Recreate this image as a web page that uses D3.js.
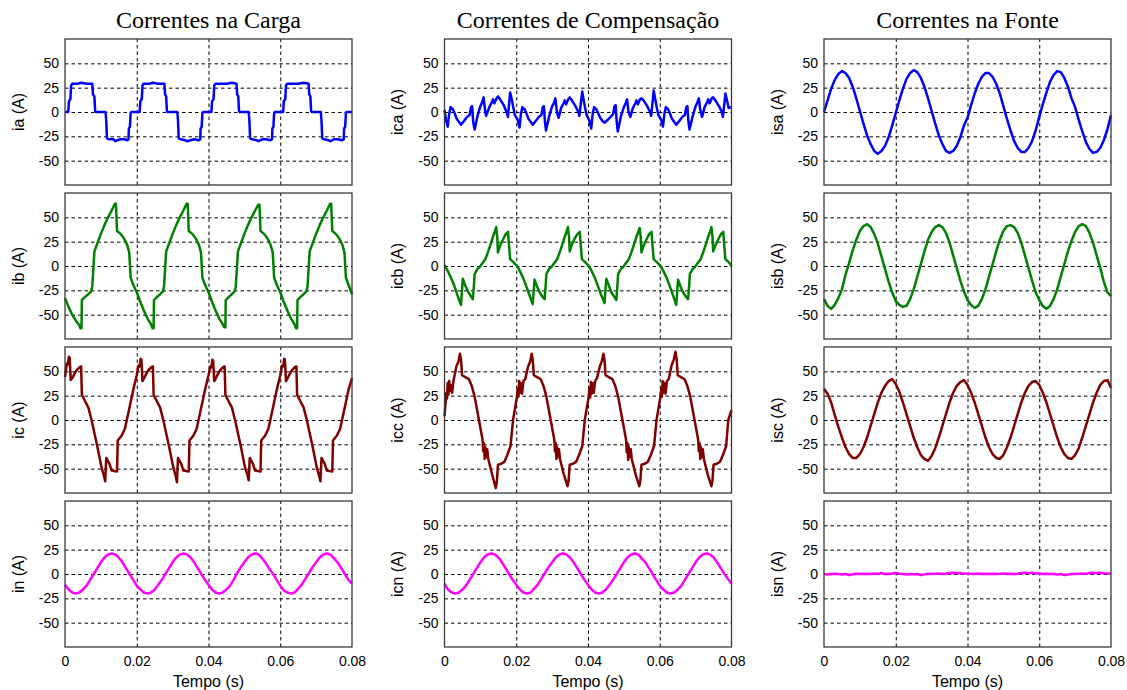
<!DOCTYPE html>
<html>
<head>
<meta charset="utf-8">
<script src="https://cdn.jsdelivr.net/npm/d3@7"></script>
<style>
body { margin: 0; background: #fff; }
</style>
</head>
<body>
<script>
// titles and labels
var columnTitles = ["Correntes na Carga", "Correntes de Compensação", "Correntes na Fonte"];
var rowLabels = [
  ["ia (A)", "ib (A)", "ic (A)", "in (A)"],
  ["ica (A)", "icb (A)", "icc (A)", "icn (A)"],
  ["isa (A)", "isb (A)", "isc (A)", "isn (A)"]
];
var phaseColors = ["#0000ff", "#008000", "#800000", "#ff00ff"];
var yTicks = [-50, -25, 0, 25, 50];
var xTicksMs = [0, 20, 40, 60, 80];
var xTickLabels = ["0", "0.02", "0.04", "0.06", "0.08"];
var xTitle = "Tempo (s)";

// time in ms for the evenly sampled traces
var sampleMs = [0,1,2,3,4,5,6,7,8,9,10,11,12,13,14,15,16,17,18,19,
  20,21,22,23,24,25,26,27,28,29,30,31,32,33,34,35,36,37,38,39,
  40,41,42,43,44,45,46,47,48,49,50,51,52,53,54,55,56,57,58,59,
  60,61,62,63,64,65,66,67,68,69,70,71,72,73,74,75,76,77,78,79,80];

// load currents [ms, A]
var loadA = [[0,0],[0.9,0],[1.1,11],[1.5,13],[1.7,27],[2.0,29],[3.5,29],[4.5,30],[6,29],[7.6,29],[7.8,18],[8.2,16],[8.4,1],[8.6,0],[11.3,0],[11.5,-9],[11.7,-27],[12.2,-28],[13.5,-28],[14,-30],[14.6,-29],[15.5,-28],[16.5,-28],[17.4,-29],[17.7,-28],[17.8,-17],[18.1,-15],[18.3,-1],[18.5,0],
  [20.8,0],[21.0,11],[21.4,13],[21.6,27],[21.9,29],[23.5,29],[24.5,30],[26,29],[27.7,29],[27.9,18],[28.2,16],[28.4,1],[28.6,0],[31.3,0],[31.5,-9],[31.7,-27],[32.2,-28],[33.5,-29],[34,-30],[35,-29],[36,-28],[37.3,-29],[37.7,-28],[37.8,-17],[38.1,-15],[38.3,-1],[38.5,0],
  [40.8,0],[41.0,11],[41.4,13],[41.6,27],[41.9,29],[43.5,29],[45,29],[46.5,30],[47.8,29],[48.0,18],[48.3,16],[48.5,1],[48.7,0],[51.2,0],[51.4,-9],[51.6,-27],[52.1,-28],[53.5,-29],[54,-30],[55,-28],[56,-28],[57.3,-29],[57.7,-28],[57.8,-17],[58.1,-15],[58.3,-1],[58.5,0],
  [60.8,0],[61.0,11],[61.4,13],[61.6,27],[61.9,29],[63.5,29],[65,29],[66.5,30],[67.9,29],[68.1,18],[68.4,16],[68.6,1],[68.8,0],[71.3,0],[71.5,-9],[71.7,-27],[72.2,-28],[73.5,-29],[74,-30],[75,-28],[76,-28],[77.3,-29],[77.7,-28],[77.8,-17],[78.1,-15],[78.3,-1],[78.5,0],[80,0]];

var loadB = [[0,-33],[1,-42],[2,-50],[3,-56],[4,-61],[4.3,-64],[4.6,-64],[4.7,-35],[5.5,-32],[6.5,-29],[7.3,-26],[7.6,-21],[8.2,15],[9,23],[10,33],[11,42],[12,50],[13,57],[13.9,64],[14.2,64],[14.5,36],[15.5,33],[16.5,28],[17.3,22],[17.9,14],[18.3,-12],[19,-19],
  [20,-27],[21,-37],[22,-46],[23,-54],[24,-60],[24.4,-64],[24.7,-64],[24.8,-35],[25.6,-32],[26.5,-29],[27.3,-26],[27.6,-21],[28.2,15],[29,23],[30,33],[31,42],[32,50],[33,57],[33.9,64],[34.2,64],[34.5,36],[35.5,33],[36.5,28],[37.3,22],[37.9,14],[38.3,-12],[39,-19],
  [40,-27],[41,-37],[42,-46],[43,-54],[44,-60],[44.4,-63],[44.7,-63],[44.8,-35],[45.6,-32],[46.5,-29],[47.3,-26],[47.6,-21],[48.2,15],[49,23],[50,33],[51,42],[52,50],[53,57],[53.9,63],[54.2,63],[54.5,36],[55.5,33],[56.5,28],[57.3,22],[57.9,14],[58.3,-12],[59,-19],
  [60,-27],[61,-37],[62,-46],[63,-54],[64,-60],[64.4,-64],[64.7,-64],[64.8,-35],[65.6,-32],[66.5,-29],[67.3,-26],[67.6,-21],[68.2,15],[69,23],[70,33],[71,42],[72,50],[73,57],[73.9,64],[74.2,64],[74.5,36],[75.5,33],[76.5,28],[77.3,22],[77.9,14],[78.3,-12],[79,-19],[80,-29]];

var loadC = [[0,44],[0.5,58],[0.8,57],[1.1,65],[1.3,64],[1.6,41],[2.2,44],[3,50],[4,54],[4.5,55],[4.7,26],[5.5,20],[6.5,13],[7.4,0],[9,-27],[10.2,-49],[10.9,-58],[11.2,-63],[11.5,-39],[12.4,-45],[13,-52],[14.5,-53],[14.7,-21],[15.8,-16],[16.7,-9],[18.1,15],[19.1,32],
  [20,46],[20.5,56],[20.8,55],[21.1,63],[21.3,62],[21.6,40],[22.2,44],[23,50],[24,54],[24.5,55],[24.7,26],[25.5,20],[26.5,13],[27.4,0],[29,-27],[30.2,-49],[30.9,-58],[31.2,-64],[31.5,-39],[32.4,-45],[33,-52],[34.5,-53],[34.7,-21],[35.8,-16],[36.7,-9],[38.1,15],[39.1,32],
  [40,46],[40.5,55],[40.8,54],[41.1,62],[41.3,61],[41.6,40],[42.2,44],[43,50],[44,54],[44.5,55],[44.7,26],[45.5,20],[46.5,13],[47.4,0],[49,-27],[50.2,-49],[50.9,-57],[51.2,-62],[51.5,-39],[52.4,-45],[53,-52],[54.5,-53],[54.7,-21],[55.8,-16],[56.7,-9],[58.1,15],[59.1,32],
  [60,46],[60.5,56],[60.8,55],[61.1,63],[61.3,62],[61.6,40],[62.2,44],[63,50],[64,54],[64.5,55],[64.7,26],[65.5,20],[66.5,13],[67.4,0],[69,-27],[70.2,-49],[70.9,-58],[71.2,-63],[71.5,-39],[72.4,-45],[73,-52],[74.5,-53],[74.7,-21],[75.8,-16],[76.7,-9],[78.1,15],[79.1,32],[80,43]];

var loadN = [-11,-16,-19,-20,-19,-16,-12,-6,0,6,12,17,20,21,20,17,12,6,0,-6,
  -12,-16,-19,-20,-19,-16,-11,-6,0,6,12,17,20,21,20,17,12,6,0,-6,
  -11,-16,-19,-20,-19,-16,-12,-6,1,7,12,17,20,21,20,16,11,5,0,-6,
  -12,-17,-19,-20,-19,-15,-11,-5,1,7,12,17,20,21,20,16,12,6,0,-6,
  -10];

// compensation currents [ms, A]
var compA = [[0,2],[0.4,-8],[0.9,-15],[1.3,-2],[1.7,5],[2.3,3],[2.8,-1],[3.4,-7],[4.0,-10],[4.6,-13],[5.5,-9],[6.3,-5],[7.0,-3],[7.4,5],[7.7,6],[8.0,-10],[8.4,-18],[9.2,-4],[10.0,6],[10.5,10],[10.9,15],[11.3,2],[11.6,-4],[12.5,5],[13.2,10],[13.5,13],[13.9,9],[14.5,14],[14.9,16],[15.5,13],[16.5,7],[17.3,0],[17.7,-5],[18.0,8],[18.3,20],[18.8,12],[19.2,4],[19.6,-3],
  [20.4,-8],[20.9,-16],[21.3,-2],[21.7,5],[22.3,3],[22.8,-1],[23.4,-7],[24.0,-10],[24.6,-13],[25.5,-9],[26.3,-5],[27.0,-3],[27.4,5],[27.7,6],[28.0,-10],[28.3,-19],[29.2,-4],[30.0,6],[30.5,9],[30.9,14],[31.3,1],[31.8,-6],[32.5,4],[33.2,9],[33.5,12],[33.9,8],[34.5,13],[34.9,15],[35.5,12],[36.5,6],[37.3,0],[37.6,-4],[38.0,9],[38.4,21],[38.8,12],[39.2,4],[39.6,-3],
  [40.4,-9],[40.9,-17],[41.3,-2],[41.7,5],[42.3,3],[42.8,-1],[43.4,-6],[44.0,-9],[44.6,-11],[45.5,-8],[46.3,-5],[47.0,-2],[47.4,6],[47.7,7],[48.0,-10],[48.3,-20],[49.2,-4],[50.0,5],[50.5,9],[50.9,13],[51.3,0],[51.8,-5],[52.5,4],[53.2,9],[53.5,12],[53.9,8],[54.5,13],[54.9,14],[55.5,12],[56.5,6],[57.3,0],[57.6,-4],[58.0,10],[58.3,22],[58.8,12],[59.2,4],[59.6,-3],
  [60.4,-8],[60.9,-15],[61.3,-2],[61.7,5],[62.3,3],[62.8,-1],[63.4,-7],[64.0,-10],[64.6,-13],[65.5,-9],[66.3,-5],[67.0,-3],[67.4,5],[67.7,6],[68.0,-10],[68.3,-18],[69.2,-4],[70.0,6],[70.5,10],[70.9,14],[71.3,2],[71.8,-5],[72.5,5],[73.2,10],[73.5,13],[73.9,9],[74.5,14],[74.9,15],[75.5,12],[76.5,6],[77.3,0],[77.6,-5],[78.0,8],[78.3,19],[78.8,11],[79.2,4],[80,5]];

var compB = [[0,1],[0.9,-5],[1.8,-12],[2.7,-20],[3.6,-30],[4.4,-38],[4.6,-40],[5.1,-13],[5.8,-20],[6.5,-26],[7.2,-30],[7.9,-34],[8.2,-20],[8.4,-8],[9.2,-3],[9.8,-1],[10.6,3],[11.4,7],[12.2,15],[13,24],[13.5,30],[14.1,36],[14.4,40],[14.7,30],[14.9,14],[15.6,22],[16.4,28],[17.1,33],[17.7,35],[18.0,20],[18.3,7],[19.2,4],
  [20.2,0],[21,-5],[21.9,-12],[22.8,-21],[23.7,-30],[24.4,-37],[24.6,-39],[25.1,-14],[25.8,-21],[26.5,-27],[27.2,-31],[27.9,-34],[28.2,-20],[28.4,-8],[29.2,-3],[29.8,-1],[30.6,3],[31.4,7],[32.2,15],[33,24],[33.5,30],[34.1,36],[34.4,40],[34.7,30],[34.9,15],[35.6,23],[36.4,29],[37.1,33],[37.7,35],[38,20],[38.3,7],[39.2,4],
  [40.2,0],[41,-5],[41.9,-12],[42.8,-21],[43.7,-30],[44.4,-36],[44.6,-38],[45.1,-13],[45.8,-20],[46.5,-27],[47.2,-31],[47.9,-35],[48.2,-20],[48.4,-8],[49.2,-3],[49.8,-1],[50.6,3],[51.4,7],[52.2,15],[53,24],[53.5,30],[54.1,36],[54.4,39],[54.7,30],[54.9,14],[55.6,22],[56.4,28],[57.1,33],[57.7,35],[58,20],[58.3,7],[59.2,4],
  [60.2,0],[61,-5],[61.9,-12],[62.8,-21],[63.7,-30],[64.4,-38],[64.6,-40],[65.1,-14],[65.8,-21],[66.5,-27],[67.2,-31],[67.9,-34],[68.2,-20],[68.4,-8],[69.2,-3],[69.8,-1],[70.6,3],[71.4,7],[72.2,15],[73,24],[73.5,30],[74.1,36],[74.4,40],[74.7,30],[74.9,15],[75.6,22],[76.4,28],[77.1,33],[77.7,35],[78,20],[78.3,7],[79.2,4],[80,0]];

var compC = [[0,4],[0.3,18],[0.5,28],[0.7,22],[0.9,38],[1.1,26],[1.3,40],[1.5,30],[1.8,36],[2.1,28],[2.5,40],[3.3,55],[3.9,60],[4.3,68],[4.6,62],[4.9,46],[5.8,44],[6.8,42],[7.6,35],[8.4,24],[9.5,2],[10.6,-20],[10.8,-32],[11.0,-24],[11.2,-40],[11.4,-28],[11.6,-38],[11.9,-30],[12.2,-40],[13.2,-55],[14.3,-70],[14.6,-63],[14.9,-46],[15.8,-45],[16.7,-43],[17.5,-36],[18.4,-27],[19.1,0],
  [20.2,24],[20.4,32],[20.6,24],[20.8,40],[21.0,28],[21.3,38],[21.6,27],[22.0,40],[22.5,42],[23.3,55],[23.9,60],[24.3,68],[24.6,62],[24.9,46],[25.8,44],[26.8,42],[27.6,35],[28.4,24],[29.5,2],[30.6,-20],[30.8,-32],[31.0,-24],[31.2,-40],[31.4,-28],[31.6,-38],[31.9,-30],[32.2,-40],[33.2,-55],[34.3,-68],[34.6,-62],[34.9,-46],[35.8,-45],[36.7,-43],[37.5,-36],[38.4,-27],[39.1,0],
  [40.2,24],[40.4,33],[40.6,23],[40.8,39],[41.0,27],[41.3,38],[41.6,28],[42.0,40],[42.5,43],[43.3,55],[43.9,61],[44.3,68],[44.6,62],[44.9,46],[45.8,44],[46.8,42],[47.6,35],[48.4,24],[49.5,2],[50.6,-20],[50.8,-33],[51.0,-24],[51.2,-41],[51.4,-28],[51.6,-38],[51.9,-30],[52.2,-40],[53.2,-55],[54.3,-68],[54.6,-62],[54.9,-46],[55.8,-45],[56.7,-43],[57.5,-36],[58.4,-27],[59.1,0],
  [60.2,24],[60.4,32],[60.6,24],[60.8,40],[61.0,28],[61.3,38],[61.6,27],[62.0,40],[62.5,42],[63.3,56],[63.9,62],[64.4,70],[64.7,63],[65.0,46],[65.9,44],[66.9,42],[67.7,35],[68.5,24],[69.6,2],[70.7,-20],[70.9,-32],[71.1,-24],[71.3,-40],[71.5,-28],[71.7,-38],[72.0,-30],[72.3,-40],[73.3,-55],[74.4,-68],[74.7,-62],[75.0,-46],[75.9,-45],[76.8,-43],[77.6,-36],[78.5,-27],[79.1,0],[80,10]];

var compN = [-10,-16,-19,-20,-19,-16,-12,-6,0,6,12,17,20,21,20,17,12,6,0,-6,
  -11,-16,-19,-20,-19,-15,-11,-5,1,7,12,17,20,21,20,17,12,6,0,-6,
  -11,-16,-19,-20,-19,-16,-11,-6,0,6,12,17,20,21,20,16,12,6,0,-6,
  -12,-16,-19,-20,-19,-16,-12,-6,0,6,12,17,20,21,20,17,12,6,0,-5,
  -10];

// source currents, one value per ms
var srcA = [0,12,24,33,39,42,40,35,26,14,1,-12,-24,-33,-40,-43,-40,-35,-26,-14,
  -1,12,24,34,40,43,41,35,26,14,1,-12,-24,-33,-40,-42,-40,-35,-26,-14,
  -6,7,19,29,36,40,40,36,29,19,6,-7,-19,-30,-37,-41,-41,-37,-30,-19,
  -5,8,20,31,38,42,41,35,26,14,5,-8,-20,-31,-38,-42,-41,-37,-29,-18,
  -3];
var srcB = [-34,-41,-44,-40,-33,-24,-9,3,16,27,36,41,43,40,33,23,10,-3,-16,-27,
  -36,-40,-42,-41,-34,-24,-11,2,15,27,35,40,42,40,34,24,11,-2,-15,-26,
  -35,-40,-43,-41,-34,-24,-11,2,15,27,36,41,42,40,34,24,11,-2,-15,-27,
  -35,-41,-44,-41,-34,-24,-11,2,15,26,35,41,43,41,34,24,11,-2,-16,-27,
  -31];
var srcC = [32,27,18,5,-7,-18,-28,-35,-39,-39,-35,-28,-18,-6,6,18,28,35,40,42,
  37,29,18,6,-6,-18,-28,-36,-40,-42,-37,-29,-18,-6,6,18,28,35,39,41,
  36,28,18,6,-6,-18,-28,-35,-39,-40,-36,-28,-18,-6,6,18,28,35,39,40,
  36,28,18,6,-6,-18,-28,-35,-39,-40,-36,-29,-18,-6,6,18,28,36,40,41,
  33];
var srcN = [0,-0.5,0,0.3,0,-0.4,0,-1,-0.3,0.2,0,0.3,0,0,0.5,0,1,0,0,0.5,
  1,0.3,0,-0.5,0,-0.3,0,-1,-0.4,0.3,0,0.2,0.5,0,0.3,1,1.2,0.8,1,0.5,
  0.2,0.3,0,0.5,0,0.2,0,0.3,0,0.2,0.5,0,0.3,0,0.2,1,1.2,1,1.2,0.8,
  0.5,0,0.2,0,0,-0.5,0,-1,-0.5,0,0,0.2,0.5,0,1,1.2,1,1.2,0.8,0.5,
  0.2];

function sampled(vals) {
  return vals.map(function(v, i) { return [sampleMs[i], v]; });
}

var panels = [
  [loadA, loadB, loadC, sampled(loadN)],
  [compA, compB, compC, sampled(compN)],
  [sampled(srcA), sampled(srcB), sampled(srcC), sampled(srcN)]
];

var W = 1127, H = 690;
var plotW = 287, plotH = 146;
var colLeft = function(c) { return 65 + c * 379.5; };
var rowTop = function(r) { return 39 + r * 154; };

var svg = d3.select("body").append("svg")
  .attr("width", W)
  .attr("height", H)
  .style("font-family", "'Liberation Sans', Arial, sans-serif");

var x = d3.scaleLinear().domain([0, 80]).range([0, plotW]);
var y = d3.scaleLinear().domain([-75, 75]).range([plotH, 0]);

var line = d3.line()
  .x(function(d) { return x(d[0]); })
  .y(function(d) { return y(d[1]); });

columnTitles.forEach(function(title, c) {
  svg.append("text")
    .attr("x", colLeft(c) + plotW / 2)
    .attr("y", 28)
    .attr("text-anchor", "middle")
    .style("font-family", "'Liberation Serif', 'Times New Roman', serif")
    .style("font-size", "24px")
    .text(title);

  for (var r = 0; r < 4; r++) {
    var g = svg.append("g")
      .attr("transform", "translate(" + colLeft(c) + "," + rowTop(r) + ")");

    // dashed grid
    var gx = g.append("g")
      .attr("transform", "translate(0," + plotH + ")")
      .call(d3.axisBottom(x).tickValues([20, 40, 60]).tickSize(-plotH).tickFormat(""));
    var gy = g.append("g")
      .call(d3.axisLeft(y).tickValues(yTicks).tickSize(-plotW).tickFormat(""));
    [gx, gy].forEach(function(a) {
      a.select(".domain").remove();
      a.selectAll("line").attr("stroke", "#000").attr("stroke-dasharray", "3.5,3");
    });

    // y tick labels
    var ly = g.append("g")
      .call(d3.axisLeft(y).tickValues(yTicks).tickSize(0).tickPadding(6)
        .tickFormat(function(d) { return String(d); }));
    ly.select(".domain").remove();
    ly.selectAll("text").style("font-size", "14px").attr("fill", "#000")
      .style("font-family", "'Liberation Sans', Arial, sans-serif");

    g.append("text")
      .attr("transform", "translate(-47," + plotH / 2 + ") rotate(-90)")
      .attr("text-anchor", "middle")
      .attr("dy", "0.35em")
      .style("font-size", "16px")
      .text(rowLabels[c][r]);

    if (r === 3) {
      var lx = g.append("g")
        .attr("transform", "translate(0," + plotH + ")")
        .call(d3.axisBottom(x).tickValues(xTicksMs).tickSize(0).tickPadding(9)
          .tickFormat(function(d, i) { return xTickLabels[i]; }));
      lx.select(".domain").remove();
      lx.selectAll("text").style("font-size", "14px").attr("fill", "#000")
        .style("font-family", "'Liberation Sans', Arial, sans-serif");

      g.append("text")
        .attr("x", plotW / 2)
        .attr("y", plotH + 40)
        .attr("text-anchor", "middle")
        .style("font-size", "16px")
        .text(xTitle);
    }

    g.append("path")
      .datum(panels[c][r])
      .attr("fill", "none")
      .attr("stroke", phaseColors[r])
      .attr("stroke-width", 2.5)
      .attr("stroke-linejoin", "round")
      .attr("d", line);

    g.append("rect")
      .attr("width", plotW)
      .attr("height", plotH)
      .attr("fill", "none")
      .attr("stroke", "#3a3a3a")
      .attr("stroke-width", 1.3);
  }
});
</script>
</body>
</html>
